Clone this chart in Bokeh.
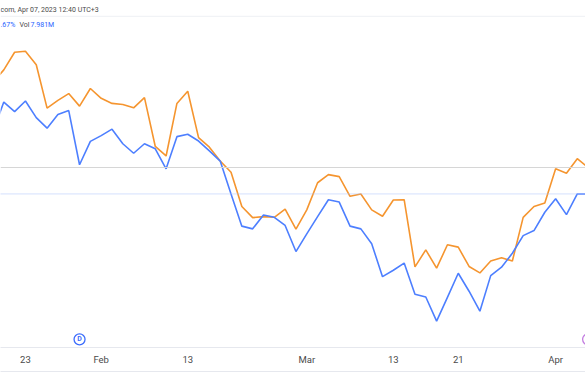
from bokeh.plotting import figure
from bokeh.models import Range1d, Span, Label, FixedTicker, LinearAxis
from bokeh.core.properties import value
from bokeh.embed import file_html
from bokeh.resources import INLINE

# trading-day index (0 = Jan 19, 2023 ... 54 = Apr 06, 2023)
day_index = list(range(-1, 55))

orange_values = [78.2, 81.9, 87.1, 87.4, 83.4, 70.6, 72.9, 74.9, 71.2, 76.4,
                 73.5, 72.0, 71.7, 70.7, 73.7, 59.3, 56.5, 72.0, 75.6, 61.9,
                 59.1, 55.0, 51.7, 41.6, 38.3, 38.6, 38.4, 40.8, 34.9, 40.6,
                 48.6, 51.0, 50.4, 44.6, 45.3, 40.6, 38.7, 43.5, 43.6, 23.8,
                 28.8, 23.4, 30.3, 29.6, 23.9, 22.0, 25.5, 26.5, 25.5, 38.4,
                 41.6, 42.6, 52.7, 51.4, 55.7, 53.1]

blue_values = [63.7, 72.4, 69.6, 72.7, 67.8, 64.7, 68.7, 69.9, 53.9, 60.8,
               62.5, 64.4, 60.1, 57.3, 60.1, 58.6, 52.7, 62.2, 62.9, 60.9,
               58.0, 55.0, 45.3, 35.8, 35.0, 39.1, 38.4, 36.0, 28.3, 33.5,
               38.6, 43.6, 42.9, 35.8, 35.0, 30.6, 20.9, 22.8, 24.9, 15.7,
               14.9, 7.8, 14.8, 21.9, 16.6, 10.7, 21.2, 23.7, 27.8, 33.0,
               34.5, 39.9, 43.9, 39.2, 45.3, 45.3]

tick_positions = [2, 9, 17, 28, 36, 42, 51]
tick_labels = ["23", "Feb", "13", "Mar", "13", "21", "Apr"]

orange_last_price = 53.1
blue_last_price = 45.3
dividend_day = [7]
dividend_level = [2.4]
dividend_text = ["D"]
event_day = [54]
event_level = [2.4]

header_date = "com, Apr 07, 2023 12:40 UTC+3"
header_change = ".67%"
header_vol_label = "Vol"
header_vol = "7.981M"

FONT = "Roboto"
ORANGE = "#f5952f"
BLUE = "#4d7fff"
X0 = -0.305

p = figure(width=585, height=374, output_backend="svg", toolbar_location=None,
           x_range=Range1d(X0, 53.76), y_range=Range1d(0, 102.36),
           x_axis_type=None, y_axis_type=None,
           min_border_left=0, min_border_right=0, min_border_top=0,
           min_border_bottom=27)
p.outline_line_color = None
p.background_fill_color = "white"
p.border_fill_color = "white"

axis = LinearAxis(ticker=FixedTicker(ticks=tick_positions),
                  major_label_overrides={t: l for t, l in zip(tick_positions, tick_labels)})
axis.axis_line_color = "#e6e8ee"
axis.axis_line_width = 1
axis.major_tick_line_color = None
axis.minor_tick_line_color = None
axis.major_label_standoff = 0
axis.major_label_text_font_size = "9.5px"
axis.major_label_text_color = "#4a4a4a"
axis.major_label_text_font = FONT
axis.axis_label = " "
axis.axis_label_standoff = 0
axis.axis_label_text_font_size = "1px"
p.add_layout(axis, "below")

axis2 = LinearAxis(ticker=FixedTicker(ticks=[]))
axis2.axis_line_color = "#e6e8ee"
axis2.major_tick_line_color = None
axis2.minor_tick_line_color = None
axis2.major_label_text_font_size = "0px"
p.add_layout(axis2, "below")

p.add_layout(Span(location=97.7, dimension="width", line_color="#eef0f4", line_width=1))
p.add_layout(Span(location=orange_last_price, dimension="width",
                  line_color="#d6d6d6", line_width=1))
p.add_layout(Span(location=blue_last_price, dimension="width",
                  line_color="#a9bffb", line_width=1, line_dash="1 1"))

p.line(day_index, orange_values, line_color=ORANGE, line_width=1.6)
p.line(day_index, blue_values, line_color=BLUE, line_width=1.6)

p.scatter(dividend_day, dividend_level, marker="circle", size=11,
          fill_color="white", line_color="#3d6dfc", line_width=1.3)
p.text(dividend_day, dividend_level, text=dividend_text, text_align="center",
       text_baseline="middle", text_font_size="7px", text_font_style="bold",
       text_color="#3d6dfc", text_font=value(FONT))
p.scatter(event_day, event_level, marker="circle", size=11,
          fill_color="white", line_color="#c37ee0", line_width=1.3)

p.add_layout(Label(x=X0, y=99.7, x_offset=0, text=header_date,
                   text_font_size="7px", text_baseline="middle",
                   text_color="#4a4a4a", text_font=FONT))
p.add_layout(Label(x=X0, y=95.0, x_offset=0, text=header_change,
                   text_font_size="7px", text_baseline="middle",
                   text_color="#2962ff", text_font=FONT))
p.add_layout(Label(x=X0, y=95.0, x_offset=19, text=header_vol_label,
                   text_font_size="7px", text_baseline="middle",
                   text_color="#4a4a4a", text_font=FONT))
p.add_layout(Label(x=X0, y=95.0, x_offset=30, text=header_vol,
                   text_font_size="7px", text_baseline="middle",
                   text_color="#2962ff", text_font=FONT))

open("out.html", "w").write(file_html(p, INLINE))
